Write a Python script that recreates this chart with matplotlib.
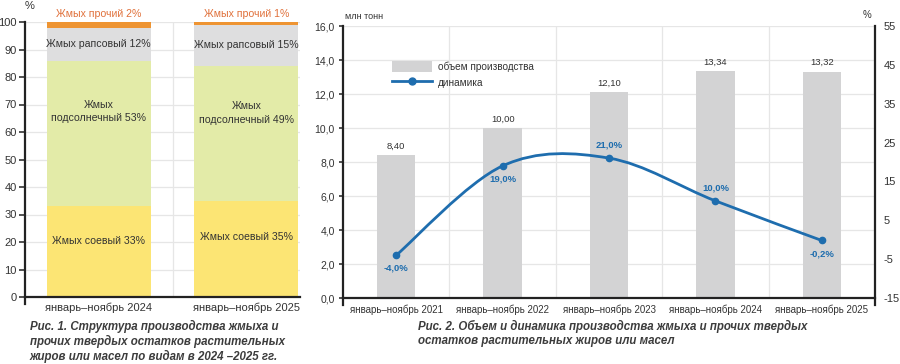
import numpy as np
import matplotlib
matplotlib.use('Agg')
import matplotlib.pyplot as plt
from matplotlib.path import Path
from matplotlib.patches import PathPatch, Patch
from matplotlib.lines import Line2D
from matplotlib.ticker import FuncFormatter

plt.rcParams['font.family'] = ['Liberation Sans', 'DejaVu Sans']
plt.rcParams['axes.unicode_minus'] = False

# ---- data, fig.1 (structure, %)
periods1 = ['январь–ноябрь 2024', 'январь–ноябрь 2025']
soy = [33, 35]
sunflower = [53, 49]
rapeseed = [12, 15]
other = [2, 1]

# ---- data, fig.2 (volume and dynamics)
periods2 = ['январь–ноябрь 2021', 'январь–ноябрь 2022', 'январь–ноябрь 2023',
            'январь–ноябрь 2024', 'январь–ноябрь 2025']
volume = [8.40, 10.00, 12.10, 13.34, 13.32]      # млн тонн
dynamics = [-4.0, 19.0, 21.0, 10.0, -0.2]         # %

c_soy = '#FCE574'
c_sun = '#E3EBA8'
c_rap = '#DEDEDF'
c_oth = '#EE9432'
c_oth_txt = '#E0703A'
c_bar = '#D3D3D4'
c_line = '#1E6DAE'
c_grid = '#E6E6E6'
c_txt = '#333333'
c_cap = '#3C3C3C'

def comma(v, pos=None, fmt='{:.1f}'):
    return fmt.format(v).replace('.', ',')

fig = plt.figure(figsize=(9, 3.64), dpi=100)

# ================= Fig. 1 =================
ax1 = fig.add_axes([25/900, 1-297/364, 275/900, 275/364])
x1 = np.arange(len(periods1))
w1 = 0.705
soy = np.array(soy); sunflower = np.array(sunflower)
rapeseed = np.array(rapeseed); other = np.array(other)
b_sun = soy
b_rap = soy + sunflower
b_oth = soy + sunflower + rapeseed

ax1.bar(x1, soy, w1, color=c_soy, zorder=2)
ax1.bar(x1, sunflower, w1, bottom=b_sun, color=c_sun, zorder=2)
ax1.bar(x1, rapeseed, w1, bottom=b_rap, color=c_rap, zorder=2)
ax1.bar(x1, other, w1, bottom=b_oth, color=c_oth, zorder=2)

fs_in = 7.6
for i in range(len(x1)):
    ax1.text(x1[i], soy[i]*0.62, f'Жмых соевый {soy[i]}%', ha='center', va='center',
             fontsize=fs_in, color=c_txt, zorder=3)
    ax1.text(x1[i], b_sun[i] + sunflower[i]*0.65, f'Жмых\nподсолнечный {sunflower[i]}%',
             ha='center', va='center', fontsize=fs_in, color=c_txt, linespacing=1.45, zorder=3)
    ax1.text(x1[i], b_rap[i] + rapeseed[i]*0.5, f'Жмых рапсовый {rapeseed[i]}%',
             ha='center', va='center', fontsize=fs_in, color=c_txt, zorder=3)
    ax1.text(x1[i], 100 + 1.0, f'Жмых прочий {other[i]}%', ha='center', va='bottom',
             fontsize=fs_in, color=c_oth_txt, zorder=3, clip_on=False)

ax1.set_xlim(-0.5, 1.363)
ax1.set_ylim(0, 100)
ax1.set_yticks(np.arange(0, 101, 10))
ax1.set_xticks(x1)
ax1.set_xticklabels(periods1, fontsize=8, color=c_txt)
ax1.tick_params(axis='x', length=0, pad=4)
ax1.tick_params(axis='y', labelsize=8, colors=c_txt, length=4, width=1.2, direction='out', pad=2)
for y in np.arange(10, 101, 10):
    ax1.axhline(y, color=c_grid, lw=0.9, zorder=0)
ax1.axvline(0.5, color=c_grid, lw=0.9, zorder=0)
for s in ['top', 'right']:
    ax1.spines[s].set_visible(False)
ax1.spines['left'].set_linewidth(1.6)
ax1.spines['bottom'].set_linewidth(1.6)
ax1.spines['left'].set_color('#222222')
ax1.spines['bottom'].set_color('#222222')
ax1.spines['left'].set_bounds(-2.5, 100)
ax1.text(-0.47, 104, '%', fontsize=8, color=c_txt, ha='center', va='bottom', clip_on=False)

fig.text(30/900, 1-320/364,
         'Рис. 1. Структура производства жмыха и\nпрочих твердых остатков растительных\nжиров или масел по видам в 2024 –2025 гг.',
         ha='left', va='top', fontsize=8.3, fontweight='bold', style='italic',
         color=c_cap, linespacing=1.2)

# ================= Fig. 2 =================
ax2 = fig.add_axes([343/900, 1-298/364, 532/900, 272/364])
x2 = np.arange(len(periods2))
ax2.bar(x2, volume, 0.36, color=c_bar, zorder=2)
for i, v in enumerate(volume):
    ax2.text(x2[i], v + 0.25, comma(v, fmt='{:.2f}'), ha='center', va='bottom',
             fontsize=6.8, color=c_txt, zorder=3)

ax2.set_xlim(-0.5, 4.5)
ax2.set_ylim(0, 16)
ax2.set_yticks(np.arange(0, 16.1, 2))
ax2.yaxis.set_major_formatter(FuncFormatter(comma))
ax2.set_xticks(x2)
ax2.set_xticklabels(periods2, fontsize=7, color=c_txt)
ax2.tick_params(axis='x', length=0, pad=5)
ax2.tick_params(axis='y', labelsize=7.5, colors=c_txt, length=3, width=1.2, pad=3)
for y in np.arange(2, 16.1, 2):
    ax2.axhline(y, color=c_grid, lw=0.9, zorder=0)
for xb in [0.5, 1.5, 2.5, 3.5]:
    ax2.axvline(xb, color=c_grid, lw=0.9, zorder=0)
ax2.spines['top'].set_visible(False)
for s in ['left', 'bottom', 'right']:
    ax2.spines[s].set_linewidth(1.6)
    ax2.spines[s].set_color('#222222')
ax2.spines['left'].set_bounds(-0.4, 16)
ax2.spines['right'].set_bounds(-0.4, 16)
ax2.text(-0.48, 16.3, 'млн тонн', fontsize=6.5, color=c_txt, ha='left', va='bottom', clip_on=False)

ax3 = ax2.twinx()
ax3.set_ylim(-15, 55)
ax3.set_yticks(np.arange(-15, 56, 10))
ax3.tick_params(axis='y', labelsize=8, colors=c_txt, length=0, pad=6)
for s in ['top', 'left', 'bottom', 'right']:
    ax3.spines[s].set_visible(False)
ax3.text(4.47, 56.5, '%', fontsize=7, color=c_txt, ha='right', va='bottom', clip_on=False)

# smooth (Bezier) line through the dynamics points
pts = np.column_stack([x2, dynamics]).astype(float)
verts = [pts[0]]
codes = [Path.MOVETO]
n = len(pts)
for i in range(n - 1):
    p0 = pts[max(i - 1, 0)]
    p1 = pts[i]
    p2 = pts[i + 1]
    p3 = pts[min(i + 2, n - 1)]
    verts += [p1 + (p2 - p0) / 6, p2 - (p3 - p1) / 6, p2]
    codes += [Path.CURVE4] * 3
ax3.add_patch(PathPatch(Path(verts, codes), fill=False, edgecolor=c_line, lw=2, zorder=4))
ax3.plot(x2, dynamics, 'o', color=c_line, ms=4.5, zorder=5)

label_side = ['below', 'below', 'above', 'above', 'below']
for i, d in enumerate(dynamics):
    off = -3.4 if label_side[i] == 'below' else 3.4
    ax3.text(x2[i], d + off, comma(d) + '%', ha='center', va='center', fontsize=6.8,
             fontweight='bold', color=c_line, zorder=6)

handles = [Patch(facecolor=c_bar, edgecolor='none'),
           Line2D([], [], color=c_line, lw=2, marker='o', ms=5)]
ax2.legend(handles, ['объем производства', 'динамика'], loc='upper left',
           bbox_to_anchor=(0.075, 0.905), frameon=False, fontsize=7.2,
           handlelength=4.0, handleheight=1.4, handletextpad=0.6, labelspacing=0.45,
           labelcolor=c_txt)

fig.text(418/900, 1-320/364,
         'Рис. 2. Объем и динамика производства жмыха и прочих твердых\nостатков растительных жиров или масел',
         ha='left', va='top', fontsize=8.3, fontweight='bold', style='italic',
         color=c_cap, linespacing=1.2)

fig.savefig('out.png', dpi=100)
